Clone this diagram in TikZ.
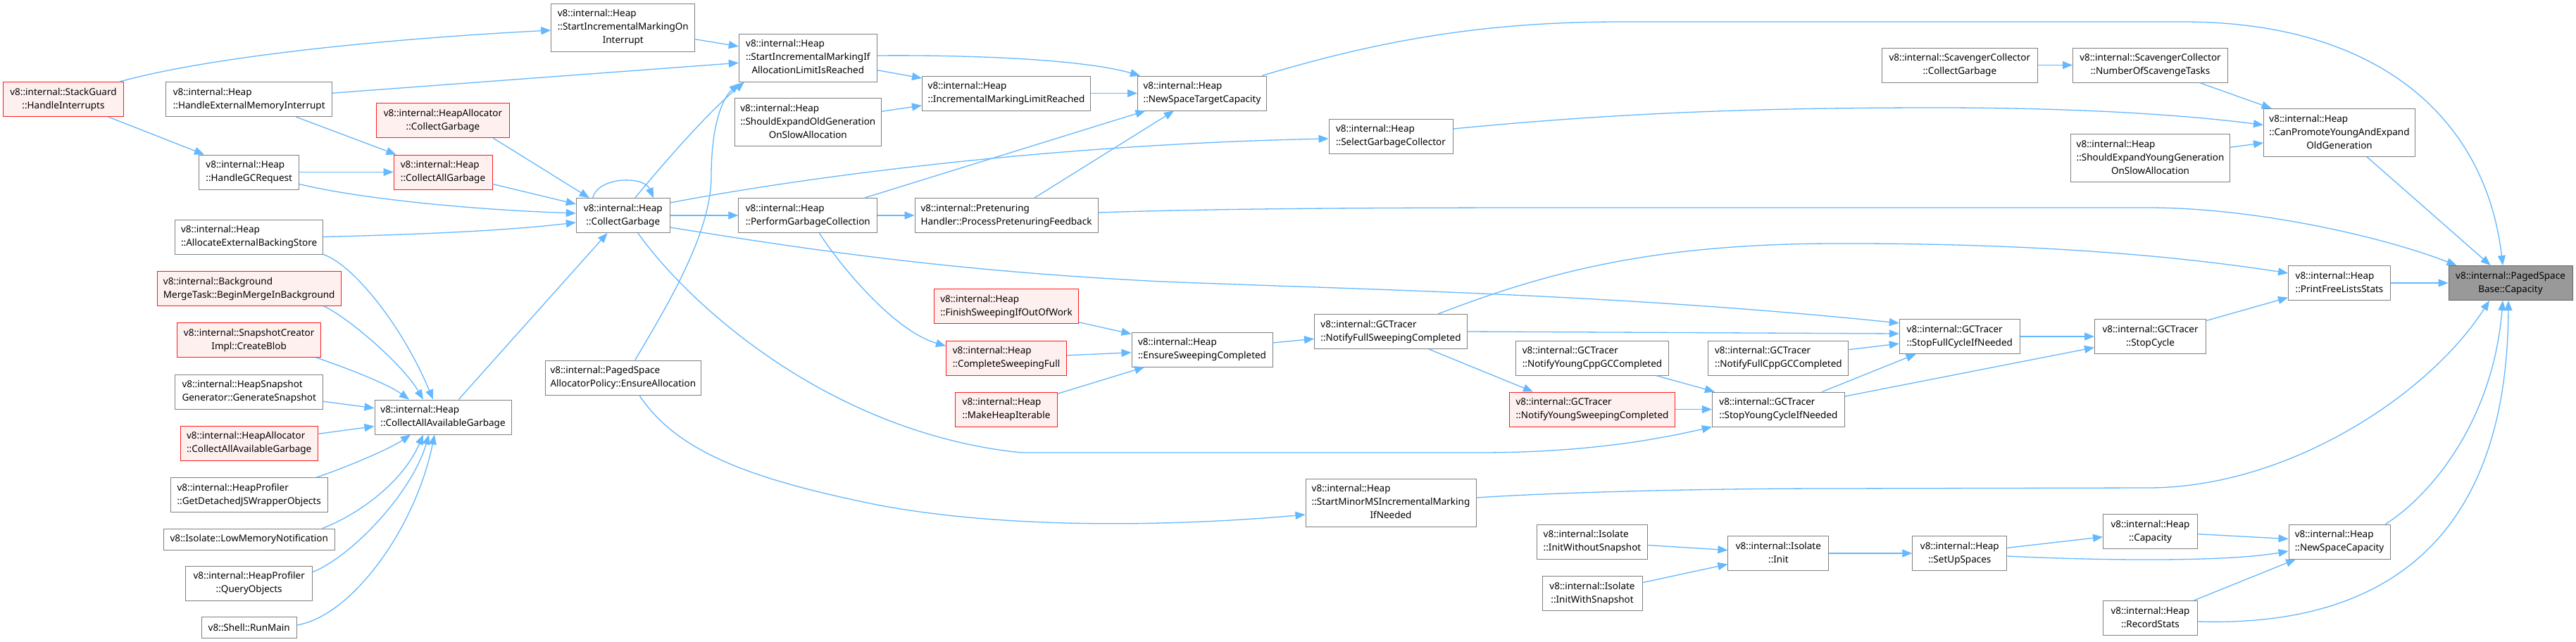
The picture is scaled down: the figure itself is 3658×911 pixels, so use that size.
\documentclass[tikz,border=0pt]{standalone}
\usepackage{fontspec}
\setmainfont{Noto Sans}
\usetikzlibrary{arrows.meta,calc}
\definecolor{edgeblue}{HTML}{63B8FF}
\definecolor{boxgray}{HTML}{808080}
\definecolor{redborder}{HTML}{FF1A1A}
\definecolor{redfill}{HTML}{FFF0F0}
\definecolor{rootfill}{HTML}{999999}
\definecolor{rootborder}{HTML}{666666}
\newcommand{\dgfont}{\fontsize{13.5}{19}\selectfont}
\newcommand{\ltwo}[2]{\begin{tabular}{@{}l@{}}#1\\\multicolumn{1}{@{}c@{}}{#2}\end{tabular}}
\newcommand{\lthree}[3]{\begin{tabular}{@{}l@{}}#1\\#2\\\multicolumn{1}{@{}c@{}}{#3}\end{tabular}}
\tikzset{
  box/.style={draw=boxgray, fill=white, line width=1pt, inner sep=0pt, font=\dgfont, minimum height=49pt},
  redbox/.style={box, draw=redborder, fill=redfill},
  rootbox/.style={box, draw=rootborder, fill=rootfill},
  edge/.style={draw=edgeblue, line width=1.3pt, -{Triangle[length=14pt,width=11pt]}},
}
\begin{document}
\begin{tikzpicture}[x=1pt,y=-1pt]
\fill[white] (0,0) rectangle (3658,911);
\useasboundingbox (0,0) rectangle (3658,911);
% column 1-2
\node[redbox, minimum width=171pt] (sg) at (90,141) {\ltwo{v8::internal::StackGuard}{::HandleInterrupts}};
\node[box, minimum width=236pt] (hemi) at (353.7,141) {\ltwo{v8::internal::Heap}{::HandleExternalMemoryInterrupt}};
\node[box, minimum width=142pt] (hgc) at (353.7,244.5) {\ltwo{v8::internal::Heap}{::HandleGCRequest}};
\node[box, minimum width=210pt] (aebs) at (353.7,336.5) {\ltwo{v8::internal::Heap}{::AllocateExternalBackingStore}};
\node[redbox, minimum width=261pt] (bmib) at (353.7,410) {\ltwo{v8::internal::Background}{MergeTask::BeginMergeInBackground}};
\node[redbox, minimum width=204pt] (cb) at (353.7,483) {\ltwo{v8::internal::SnapshotCreator}{Impl::CreateBlob}};
\node[box, minimum width=210pt] (gs) at (353.7,556.5) {\ltwo{v8::internal::HeapSnapshot}{Generator::GenerateSnapshot}};
\node[redbox, minimum width=195pt] (hacaag) at (353.7,629.5) {\ltwo{v8::internal::HeapAllocator}{::CollectAllAvailableGarbage}};
\node[box, minimum width=223pt] (gdj) at (353.7,703) {\ltwo{v8::internal::HeapProfiler}{::GetDetachedJSWrapperObjects}};
\node[box, minimum width=243pt, minimum height=30pt] (lmn) at (353.7,766) {v8::Isolate::LowMemoryNotification};
\node[box, minimum width=180pt] (qo) at (353.7,828.5) {\ltwo{v8::internal::HeapProfiler}{::QueryObjects}};
\node[box, minimum width=135pt, minimum height=30pt] (rm) at (353.7,891) {v8::Shell::RunMain};
% column 3
\node[redbox, minimum width=189pt] (hacg) at (629,171) {\ltwo{v8::internal::HeapAllocator}{::CollectGarbage}};
\node[redbox, minimum width=140pt] (cag) at (629,244.5) {\ltwo{v8::internal::Heap}{::CollectAllGarbage}};
\node[box, minimum width=194pt] (caag) at (629,592.5) {\ltwo{v8::internal::Heap}{::CollectAllAvailableGarbage}};
% column 4
\node[box, minimum width=204pt, minimum height=68pt] (simoi) at (884.8,39) {\lthree{v8::internal::Heap}{::StartIncrementalMarkingOn}{Interrupt}};
\node[box, minimum width=133pt] (cg) at (884.8,306) {\ltwo{v8::internal::Heap}{::CollectGarbage}};
\node[box, minimum width=221pt] (ea) at (884.8,536.5) {\ltwo{v8::internal::PagedSpace}{AllocatorPolicy::EnsureAllocation}};
% column 5
\node[box, minimum width=196pt, minimum height=68pt] (simialir) at (1147.3,82) {\lthree{v8::internal::Heap}{::StartIncrementalMarkingIf}{AllocationLimitIsReached}};
\node[box, minimum width=208pt, minimum height=68pt] (seogosa) at (1147.3,173.5) {\lthree{v8::internal::Heap}{::ShouldExpandOldGeneration}{OnSlowAllocation}};
\node[box, minimum width=197pt] (pgc) at (1147.3,306) {\ltwo{v8::internal::Heap}{::PerformGarbageCollection}};
% column 6
\node[box, minimum width=239pt] (imlr) at (1429,132.5) {\ltwo{v8::internal::Heap}{::IncrementalMarkingLimitReached}};
\node[box, minimum width=260pt] (ppf) at (1429,306) {\ltwo{v8::internal::Pretenuring}{Handler::ProcessPretenuringFeedback}};
\node[redbox, minimum width=205pt] (fsioow) at (1429,435) {\ltwo{v8::internal::Heap}{::FinishSweepingIfOutOfWork}};
\node[redbox, minimum width=171pt] (csf) at (1429,508.5) {\ltwo{v8::internal::Heap}{::CompleteSweepingFull}};
\node[redbox, minimum width=145pt] (mhi) at (1429,581.5) {\ltwo{v8::internal::Heap}{::MakeHeapIterable}};
% column 7
\node[box, minimum width=183pt] (nstc) at (1707,132.5) {\ltwo{v8::internal::Heap}{::NewSpaceTargetCapacity}};
\node[box, minimum width=200pt] (esc) at (1707,496.5) {\ltwo{v8::internal::Heap}{::EnsureSweepingCompleted}};
% column 8
\node[box, minimum width=176pt] (sgc) at (1975,193.5) {\ltwo{v8::internal::Heap}{::SelectGarbageCollector}};
\node[box, minimum width=217pt] (nfsc) at (1975,471) {\ltwo{v8::internal::GCTracer}{::NotifyFullSweepingCompleted}};
\node[box, minimum width=242pt, minimum height=68pt] (smm) at (1975,714) {\lthree{v8::internal::Heap}{::StartMinorMSIncrementalMarking}{IfNeeded}};
% column 9
\node[box, minimum width=217pt] (nycpp) at (2261,508.5) {\ltwo{v8::internal::GCTracer}{::NotifyYoungCppGCCompleted}};
\node[redbox, minimum width=235pt] (nysc) at (2261,581.5) {\ltwo{v8::internal::GCTracer}{::NotifyYoungSweepingCompleted}};
\node[box, minimum width=157pt] (iwos) at (2261,769.5) {\ltwo{v8::internal::Isolate}{::InitWithoutSnapshot}};
\node[box, minimum width=142pt] (iws) at (2261,843) {\ltwo{v8::internal::Isolate}{::InitWithSnapshot}};
% column 10
\node[box, minimum width=199pt] (nfcpp) at (2525.4,508.5) {\ltwo{v8::internal::GCTracer}{::NotifyFullCppGCCompleted}};
\node[box, minimum width=188pt] (sycin) at (2525.4,581.5) {\ltwo{v8::internal::GCTracer}{::StopYoungCycleIfNeeded}};
\node[box, minimum width=143pt] (init) at (2525.4,786) {\ltwo{v8::internal::Isolate}{::Init}};
% column 11
\node[box, minimum width=221pt] (scc) at (2782.8,92.5) {\ltwo{v8::internal::ScavengerCollector}{::CollectGarbage}};
\node[box, minimum width=171pt] (sfcin) at (2782.8,478) {\ltwo{v8::internal::GCTracer}{::StopFullCycleIfNeeded}};
\node[box, minimum width=134pt] (sus) at (2782.8,786) {\ltwo{v8::internal::Heap}{::SetUpSpaces}};
% column 12
\node[box, minimum width=220pt] (snst) at (3053.5,92.5) {\ltwo{v8::internal::ScavengerCollector}{::NumberOfScavengeTasks}};
\node[box, minimum width=226pt, minimum height=68pt] (seyg) at (3053.5,224.5) {\lthree{v8::internal::Heap}{::ShouldExpandYoungGeneration}{OnSlowAllocation}};
\node[box, minimum width=158pt] (sc) at (3053.5,478) {\ltwo{v8::internal::GCTracer}{::StopCycle}};
\node[box, minimum width=134pt] (hcap) at (3053.5,755) {\ltwo{v8::internal::Heap}{::Capacity}};
\node[box, minimum width=134pt] (rs) at (3053.5,878) {\ltwo{v8::internal::Heap}{::RecordStats}};
% column 13
\node[box, minimum width=215pt, minimum height=68pt] (cpy) at (3322,188.5) {\lthree{v8::internal::Heap}{::CanPromoteYoungAndExpand}{OldGeneration}};
\node[box, minimum width=145pt] (pfls) at (3322,402) {\ltwo{v8::internal::Heap}{::PrintFreeListsStats}};
\node[box, minimum width=144pt] (nsc) at (3322,769.5) {\ltwo{v8::internal::Heap}{::NewSpaceCapacity}};
% root
\node[rootbox, minimum width=176pt] (root) at (3565,402) {\ltwo{v8::internal::PagedSpace}{Base::Capacity}};

% edges
\draw[edge] (sg) -- (hgc);
\draw[edge] ($(sg.north east)+(-6,0)$) .. controls (300,80) and (550,55) .. ($(simoi.west)+(0,4)$);
\draw[edge] (hemi) -- (simialir);
\draw[edge] (hemi) -- (cag);
\draw[edge] (hgc) -- (cag);
\draw[edge] ($(hgc.east)+(0,17)$) .. controls (500,280) and (650,297) .. ($(cg.west)+(0,-3)$);
\draw[edge] (aebs.east) .. controls (550,334) and (700,330) .. ($(cg.west)+(0,10)$);
\draw[edge] (aebs.south east) .. controls (500,375) and (570,460) .. ($(caag.north)+(-14,0)$);
\draw[edge] ($(bmib.south east)+(-25,0)$) .. controls (490,448) and (570,515) .. ($(caag.north)+(-28,0)$);
\draw[edge] ($(cb.south east)+(-7,0)$) .. controls (490,522) and (550,545) .. ($(caag.north)+(-48,0)$);
\draw[edge] (gs) -- (caag);
\draw[edge] (hacaag) -- (caag);
\draw[edge] ($(gdj.north east)+(-16,0)$) .. controls (480,668) and (550,640) .. ($(caag.south)+(-46,0)$);
\draw[edge] ($(lmn.north east)+(-18,0)$) .. controls (500,735) and (570,690) .. ($(caag.south)+(-28,0)$);
\draw[edge] ($(qo.east)+(0,-16)$) .. controls (500,790) and (585,700) .. ($(caag.south)+(-20,0)$);
\draw[edge] ($(rm.east)+(0,-3)$) .. controls (500,875) and (590,750) .. ($(caag.south)+(-12,0)$);
\draw[edge] (caag) -- (cg);
\draw[edge] (cag) -- (cg);
\draw[edge] ($(hacg.south east)+(-24,0)$) -- ($(cg.north west)+(19,0)$);
\draw[edge] ($(cg.north)+(-43,0)$) .. controls (850,250) and (915,250) .. ($(cg.north)+(43,0)$);
\draw[edge] (cg) -- (pgc);
\draw[edge] ($(cg.north)+(17,0)$) .. controls (940,235) and (1000,165) .. ($(simialir.south west)+(8,0)$);
\draw[edge] ($(ea.north)+(17,0)$) .. controls (950,430) and (1010,330) .. (1010,250) .. controls (1010,180) and (1025,140) .. ($(simialir.south west)+(1,2)$);
\draw[edge] ($(cg.east)+(0,-18)$) .. controls (1150,250) and (1500,205) .. ($(sgc.west)+(0,3.5)$);
\draw[edge] ($(cg.east)+(0,17)$) .. controls (1150,355) and (1350,385) .. (1650,400) .. controls (1950,412) and (2300,418) .. ($(sfcin.north west)+(0,6)$);
\draw[edge] ($(cg.south)+(21,0)$) .. controls (980,435) and (1180,615) .. (1450,643) -- (2100,643) .. controls (2250,643) and (2350,625) .. (sycin.south west);
\draw[edge] ($(ea.south)+(23,0)$) .. controls (960,640) and (1060,680) .. (1250,718) .. controls (1450,755) and (1700,745) .. ($(smm.west)+(0,17)$);
\draw[edge] (simoi) -- (simialir);
\draw[edge] (simialir) -- (imlr);
\draw[edge] (seogosa) -- (imlr);
\draw[edge] ($(simialir.east)+(0,-3)$) .. controls (1350,78) and (1530,82) .. ($(nstc.north west)+(4,0)$);
\draw[edge] (imlr) -- (nstc);
\draw[edge] (pgc) -- (nstc);
\draw[edge] (ppf) -- (nstc);
\draw[edge] (pgc) -- (ppf);
\draw[edge] ($(pgc.south)+(16,0)$) .. controls (1195,380) and (1270,470) .. ($(csf.west)+(0,-17)$);
\draw[edge] (fsioow) -- (esc);
\draw[edge] (csf) -- (esc);
\draw[edge] (mhi) -- (esc);
\draw[edge] (esc) -- (nfsc);
\draw[edge] ($(nfsc.south)+(54,0)$) -- ($(nysc.north west)+(34,0)$);
\draw[edge] (nfsc.east) -- ($(sfcin.west)+(0,-4)$);
\draw[edge] ($(nfsc.north east)+(-42,0)$) .. controls (2200,385) and (2350,347) .. (2600,346) .. controls (2900,345) and (3100,365) .. ($(pfls.west)+(0,-14)$);
\draw[edge] (nfcpp) -- (sfcin);
\draw[edge] (sycin) -- (sfcin);
\draw[edge] (nycpp) -- (sycin);
\draw[edge] (nysc) -- (sycin);
\draw[edge] (sfcin) -- (sc);
\draw[edge] (sycin) -- (sc);
\draw[edge] (sc) -- (pfls);
\draw[edge] (pfls) -- (root);
\draw[edge] (scc) -- (snst);
\draw[edge] (snst) -- (cpy);
\draw[edge] (seyg) -- (cpy);
\draw[edge] ($(sgc.east)+(0,-10.5)$) .. controls (2300,160) and (2500,153) .. (2750,153) .. controls (2950,153) and (3100,163) .. ($(cpy.west)+(0,-11)$);
\draw[edge] (cpy) -- (root);
\draw[edge] ($(nstc.north east)+(-7,0)$) .. controls (1950,60) and (2100,31) .. (2300,31) -- (3100,31) .. controls (3380,31) and (3530,170) .. ($(root.north)+(-11,0)$);
\draw[edge] ($(ppf.east)+(0,-4)$) .. controls (1700,297) and (1900,295) .. (2200,295) -- (3050,295) .. controls (3200,295) and (3380,335) .. ($(root.north west)+(12,0)$);
\draw[edge] ($(smm.east)+(0,-7)$) .. controls (2200,700) and (2400,694) .. (2600,694) -- (3050,693) .. controls (3250,693) and (3450,560) .. ($(root.south)+(-30,0)$);
\draw[edge] ($(nsc.north east)+(-7,0)$) .. controls (3450,705) and (3540,600) .. ($(root.south)+(-11,0)$);
\draw[edge] ($(rs.east)+(0,5)$) .. controls (3350,890) and (3560,800) .. ($(root.south)+(-3,0)$);
\draw[edge] (hcap) -- (nsc);
\draw[edge] ($(sus.east)+(0,4)$) .. controls (2950,795) and (3150,800) .. ($(nsc.west)+(0,13.5)$);
\draw[edge] (rs) -- (nsc);
\draw[edge] (sus) -- (hcap);
\draw[edge] (init) -- (sus);
\draw[edge] (iwos) -- (init);
\draw[edge] (iws) -- (init);
\end{tikzpicture}
\end{document}
